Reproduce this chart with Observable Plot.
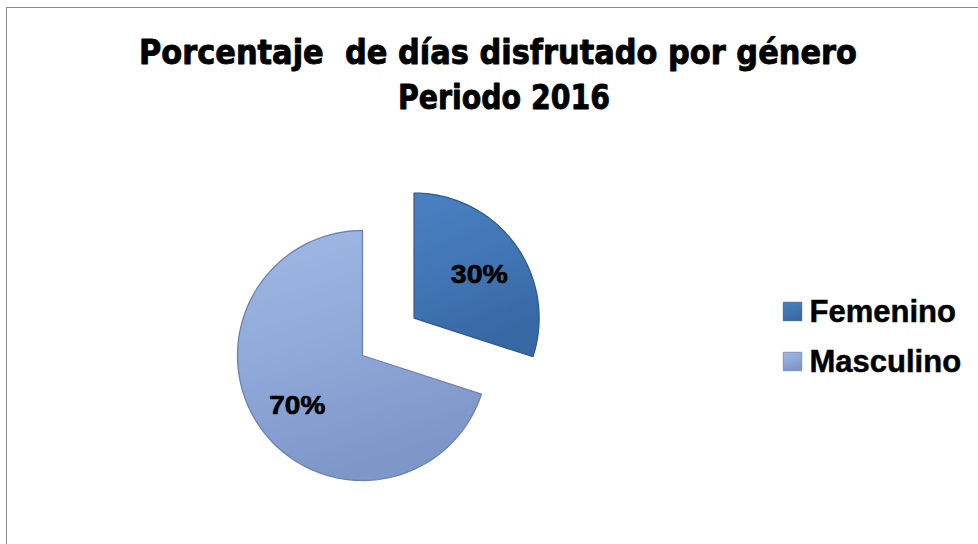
<!DOCTYPE html>
<html><head><meta charset="utf-8">
<script src="https://cdn.jsdelivr.net/npm/d3@7"></script>
<script src="https://cdn.jsdelivr.net/npm/@observablehq/plot@0.6"></script>
<style>
body{margin:0;background:#fff}
#chart{position:relative;width:978px;height:544px;overflow:hidden}
#border{position:absolute;left:6px;top:7px;width:990px;height:600px;border-left:1.5px solid #8a8a8a;border-top:1.5px solid #8a8a8a;pointer-events:none}
</style>
</head><body><div id="chart"><div id="border"></div></div>
<script>
// ---- data ----
const categories = ["Femenino", "Masculino"];
const values = [30, 70];
const valueLabels = ["30%", "70%"];
const titleLines = ["Porcentaje  de días disfrutado por género", "Periodo 2016"];
const explodeFraction = [0.51, 0];   // slice pull-out, in radii
const gradientIds = ["gFem", "gMas"];
const strokeColors = ["#2e5a8f", "#6b82b0"];

// ---- geometry in radius units, through Plot scales ----
const W = 978, H = 544, R = 125, CX = 362, CY = 355;
const arcs = d3.pie().sort(null).value(d => d)(values);
const slices = arcs.map((a, i) => {
  const mid = (a.startAngle + a.endAngle) / 2;
  const ox = explodeFraction[i] * Math.sin(mid), oy = explodeFraction[i] * Math.cos(mid);
  const pts = [{x: ox, y: oy}];
  const n = 120;
  for (let k = 0; k <= n; k++) {
    const t = a.startAngle + (a.endAngle - a.startAngle) * k / n;
    pts.push({x: ox + Math.sin(t), y: oy + Math.cos(t)});
  }
  pts.push({x: ox, y: oy});
  return {cat: categories[i], pts, mid, ox, oy};
});
const labelData = slices.map((s, i) => ({
  label: valueLabels[i],
  x: s.ox + 0.645 * Math.sin(s.mid),
  y: s.oy + 0.645 * Math.cos(s.mid) - (i === 0 ? 0.03 : 0.02)
}));

const defs = () => {
  const d = d3.create("svg:defs");
  const g1 = d.append("linearGradient").attr("id", "gFem").attr("x1", 0).attr("y1", 0).attr("x2", 0.3).attr("y2", 1);
  g1.append("stop").attr("offset", "0%").attr("stop-color", "#4a80c2");
  g1.append("stop").attr("offset", "50%").attr("stop-color", "#4276b6");
  g1.append("stop").attr("offset", "100%").attr("stop-color", "#3868a4");
  const g2 = d.append("linearGradient").attr("id", "gMas").attr("x1", 0).attr("y1", 0).attr("x2", 0.3).attr("y2", 1);
  g2.append("stop").attr("offset", "0%").attr("stop-color", "#a0b8e3");
  g2.append("stop").attr("offset", "50%").attr("stop-color", "#91a9d9");
  g2.append("stop").attr("offset", "100%").attr("stop-color", "#7f97c8");
  const f = d.append("filter").attr("id", "shadow").attr("x", "-10%").attr("y", "-10%").attr("width", "130%").attr("height", "130%");
  f.append("feDropShadow").attr("dx", 1.5).attr("dy", 2).attr("stdDeviation", 2).attr("flood-color", "#000").attr("flood-opacity", 0.25);
  return d.node();
};

const legendY = [312, 362];
const heavy = {fontFamily: "DejaVu Sans", fontWeight: 900, fill: "#000", stroke: "#000", strokeWidth: 0.9, strokeLinejoin: "round"};

const plot = Plot.plot({
  width: W, height: H,
  margin: 0,
  x: {domain: [-CX / R, (W - CX) / R], range: [0, W], axis: null},
  y: {domain: [(CY - H) / R, CY / R], range: [H, 0], axis: null},
  style: {background: "transparent", overflow: "visible"},
  marks: [
    defs,
    ...slices.map((s, i) => Plot.line(s.pts, {
      x: "x", y: "y",
      fill: `url(#${gradientIds[i]})`,
      stroke: strokeColors[i], strokeWidth: 1.3, strokeLinejoin: "round"
    })),
    Plot.text(labelData, {
      x: "x", y: "y", text: "label",
      fontSize: 26, fontWeight: "bold", fontFamily: "Liberation Sans, Arial, sans-serif",
      fill: "#000", stroke: "#000", strokeWidth: 0.7, textAnchor: "middle", lineAnchor: "middle"
    }),
    // title
    Plot.text([titleLines[0]], {frameAnchor: "top-left", dx: 497.5, dy: 53, text: d => d,
      fontSize: 33, textAnchor: "middle", lineAnchor: "middle", ...heavy}),
    Plot.text([titleLines[1]], {frameAnchor: "top-left", dx: 503.5, dy: 98, text: d => d,
      fontSize: 33, textAnchor: "middle", lineAnchor: "middle", ...heavy}),
    // legend
    ...categories.map((c, i) => Plot.dot([c], {frameAnchor: "top-left", dx: 792, dy: legendY[i] - 1,
      symbol: "square", r: 10.4, fill: `url(#${gradientIds[i]})`, stroke: strokeColors[i], strokeWidth: 0.8})),
    ...categories.map((c, i) => Plot.text([c], {frameAnchor: "top-left", dx: 809, dy: legendY[i], text: d => d,
      fontSize: 31, fontWeight: "bold", fontFamily: "Liberation Sans, Arial, sans-serif",
      stroke: "#000", strokeWidth: 0.5, textAnchor: "start", lineAnchor: "middle", fill: "#000"}))
  ]
});

// fit title widths to the reference's heavy display face
const widths = {[titleLines[0]]: 718, [titleLines[1]]: 212, "30%": 57, "70%": 56};
d3.select(plot).selectAll("text").each(function () {
  const t = this.textContent;
  if (widths[t]) d3.select(this).attr("textLength", widths[t]).attr("lengthAdjust", "spacingAndGlyphs");
});
d3.select(plot).selectAll("path").filter(function(){ return (this.getAttribute("fill")||"").startsWith("url(#g") && this.getAttribute("d") && this.getAttribute("d").length > 200; }).attr("filter", "url(#shadow)");
document.getElementById("chart").prepend(plot);
</script>
</body></html>
